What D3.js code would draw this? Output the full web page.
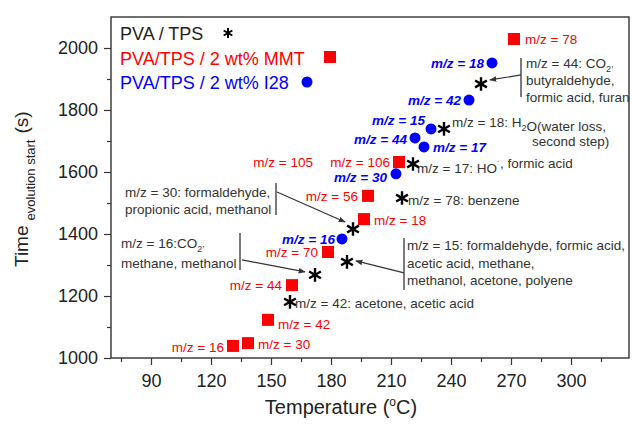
<!DOCTYPE html>
<html>
<head>
<meta charset="utf-8">
<script src="https://cdn.jsdelivr.net/npm/d3@7"></script>
<style>
  body { margin: 0; background: #fff; }
  svg { font-family: "Liberation Sans", Arial, sans-serif; }
</style>
</head>
<body>
<div id="chart"></div>
<script>
// PVA / TPS (stars)
var pvaTemp = [255, 236.5, 221, 215.5, 191, 188, 172, 159.5];
var pvaTime = [1884, 1739, 1626, 1516, 1416, 1310, 1268, 1181];
var pvaMz   = [44, 18, 17, 78, 30, 15, 16, 42];

// PVA/TPS / 2 wt% MMT (squares)
var mmtTemp = [271.5, 214, 214, 198.5, 196.5, 178.5, 160.5, 148.5, 138.5, 131];
var mmtTime = [2029, 1632, 1632, 1523, 1448, 1342, 1235, 1123, 1048, 1039];
var mmtMz   = [78, 106, 105, 56, 18, 70, 44, 42, 30, 16];

// PVA/TPS / 2 wt% I28 (circles)
var i28Temp = [260.5, 249, 230, 222, 226.5, 212.5, 185.5];
var i28Time = [1952, 1832, 1739, 1710, 1681, 1594, 1384];
var i28Mz   = [18, 42, 15, 44, 17, 30, 16];

var xTicks = [90, 120, 150, 180, 210, 240, 270, 300];
var xMinor = [75, 105, 135, 165, 195, 225, 255, 285, 315];
var yTicks = [1000, 1200, 1400, 1600, 1800, 2000];
var yMinor = [1100, 1300, 1500, 1700, 1900];

var legendNames = ["PVA / TPS", "PVA/TPS / 2 wt% MMT", "PVA/TPS / 2 wt% I28"];

// label placement (offsets from the point, in px)
var mmtLabelPos = [[11,0,"start"],[-9,0,"end"],[-86,0,"end"],[-10,0,"end"],[10,1,"start"],
                   [-10,0,"end"],[-10,0,"end"],[10,4,"start"],[10,1,"start"],[-9,1,"end"]];
var i28LabelPos = [[-8,0],[-8,0],[-6,-9],[-8,1],[9,0,"start"],[-9,3],[-7,0]];

// annotation text for the PVA/TPS stars; segments: [text, "sub"|"sup"|""]
var pvaNotes = [
  {i: 0, lines: [[["m/z = 44: CO"], ["2", "sub"], [",", "sup"]], [["butyraldehyde,"]], [["formic acid, furan"]]],
   tx: 45, ty: [-21, -4, 13], br: [40, -26, 13], arrow: [40, -9, 9, -4]},
  {i: 1, lines: [[["m/z = 18: H"], ["2", "sub"], ["O(water loss,"]], [["second step)"]]],
   tx: [8, 88], ty: [-7, 12]},
  {i: 2, lines: [[["m/z = 17: HO"], ["\u02D9", "sup"], [", formic acid"]]], tx: 4, ty: [4]},
  {i: 3, lines: [[["m/z = 78: benzene"]]], tx: 6, ty: [2]},
  {i: 4, lines: [[["m/z = 30: formaldehyde,"]], [["propionic acid, methanol"]]],
   tx: -228, ty: [-37, -20], br: [-77, -46, -14], arrow: [-76, -37, -8, -7]},
  {i: 5, lines: [[["m/z = 15: formaldehyde, formic acid,"]], [["acetic acid, methane,"]], [["methanol, acetone, polyene"]]],
   tx: 60, ty: [-17, 1, 18], br: [57, -24, 28], arrow: [57, 11, 9, -1]},
  {i: 6, lines: [[["m/z = 16:CO"], ["2", "sub"], [",", "sup"]], [["methane, methanol"]]],
   tx: -194, ty: [-32, -12], br: [-75, -42, -5], arrow: [-73, -15, -10, -3]},
  {i: 7, lines: [[["m/z = 42: acetone, acetic acid"]]], tx: 5, ty: [1]}
];

var w = 632, h = 425;
var red = "#ff0000", blue = "#0000ff", ink = "#333";

var svg = d3.select("#chart").append("svg")
  .attr("width", w)
  .attr("height", h);

var xScale = d3.scaleLinear().domain([70, 329]).range([111, 629]);
var yScale = d3.scaleLinear().domain([1000, 2100]).range([358, 17]);

svg.append("defs").append("marker")
  .attr("id", "arrow")
  .attr("viewBox", "0 0 10 10")
  .attr("refX", 9).attr("refY", 5)
  .attr("markerWidth", 7).attr("markerHeight", 7)
  .attr("markerUnits", "userSpaceOnUse")
  .attr("orient", "auto")
  .append("path")
  .attr("d", "M0,1 L10,5 L0,9 Z")
  .attr("fill", ink);

// axes
function styleAxis(g) {
  g.select(".domain").remove();
  g.selectAll("line").attr("stroke", ink).attr("stroke-width", 1.2);
  g.selectAll("text").attr("fill", "#222").style("font-size", "18px");
}

svg.append("g")
  .attr("transform", "translate(0," + yScale(1000) + ")")
  .call(d3.axisBottom(xScale).tickValues(xTicks).tickSize(7).tickPadding(9).tickFormat(d3.format("d")))
  .call(styleAxis);
svg.append("g")
  .attr("transform", "translate(0," + yScale(1000) + ")")
  .call(d3.axisBottom(xScale).tickValues(xMinor).tickSize(4).tickFormat(""))
  .call(styleAxis);
svg.append("g")
  .attr("transform", "translate(" + xScale(70) + ",0)")
  .call(d3.axisLeft(yScale).tickValues(yTicks).tickSize(7).tickPadding(6).tickFormat(d3.format("d")))
  .call(styleAxis);
svg.append("g")
  .attr("transform", "translate(" + xScale(70) + ",0)")
  .call(d3.axisLeft(yScale).tickValues(yMinor).tickSize(4).tickFormat(""))
  .call(styleAxis);

svg.append("rect")
  .attr("x", xScale(70))
  .attr("y", yScale(2100))
  .attr("width", xScale(329) - xScale(70))
  .attr("height", yScale(1000) - yScale(2100))
  .attr("fill", "none")
  .attr("stroke", ink)
  .attr("stroke-width", 1.4);

// axis titles
var xTitle = svg.append("text")
  .attr("x", 341).attr("y", 414)
  .attr("text-anchor", "middle")
  .attr("fill", "#222")
  .style("font-size", "20px");
xTitle.append("tspan").text("Temperature (");
xTitle.append("tspan").attr("dy", -8).style("font-size", "12px").text("o");
xTitle.append("tspan").attr("dy", 8).text("C)");

var yTitle = svg.append("text")
  .attr("transform", "translate(28,267) rotate(-90)")
  .attr("fill", "#222")
  .style("font-size", "19px");
yTitle.append("tspan").text("Time");
yTitle.append("tspan").attr("dx", 5).attr("dy", 7).style("font-size", "13px").text("evolution start");
yTitle.append("tspan").attr("dx", 6).attr("dy", -7).text("(s)");

// data
var pva = pvaTemp.map(function(d, i) { return {t: d, s: pvaTime[i], mz: pvaMz[i]}; });
var mmt = mmtTemp.map(function(d, i) { return {t: d, s: mmtTime[i], mz: mmtMz[i]}; });
var i28 = i28Temp.map(function(d, i) { return {t: d, s: i28Time[i], mz: i28Mz[i]}; });

var star = d3.symbol().type(d3.symbolAsterisk).size(130);

// annotations (brackets, arrows, text)
function addSegments(sel, segs) {
  segs.forEach(function(s) {
    var sp = sel.append("tspan").text(s[0]);
    if (s[1] == "sub") sp.attr("dy", 4).style("font-size", "9px");
    else if (s[1] == "sup") sp.attr("dy", -5).style("font-size", "9px");
    else sp.attr("dy", 0);
  });
}

pvaNotes.forEach(function(n) {
  var d = pva[n.i];
  var px = xScale(d.t), py = yScale(d.s);
  var g = svg.append("g").attr("class", "note");
  if (n.br) {
    g.append("line")
      .attr("x1", px + n.br[0]).attr("x2", px + n.br[0])
      .attr("y1", py + n.br[1]).attr("y2", py + n.br[2])
      .attr("stroke", ink).attr("stroke-width", 1.3);
  }
  if (n.arrow) {
    g.append("line")
      .attr("x1", px + n.arrow[0]).attr("y1", py + n.arrow[1])
      .attr("x2", px + n.arrow[2]).attr("y2", py + n.arrow[3])
      .attr("stroke", ink).attr("stroke-width", 1.2)
      .attr("marker-end", "url(#arrow)");
  }
  n.lines.forEach(function(line, k) {
    var tx = Array.isArray(n.tx) ? n.tx[k] : n.tx;
    var t = g.append("text")
      .attr("x", px + tx)
      .attr("y", py + n.ty[k] + 5)
      .attr("fill", ink)
      .style("font-size", "13.5px");
    addSegments(t, line);
  });
});

// markers
svg.append("g").selectAll("rect")
  .data(mmt)
  .enter()
  .append("rect")
  .attr("x", function(d) { return xScale(d.t) - 6; })
  .attr("y", function(d) { return yScale(d.s) - 6; })
  .attr("width", 12).attr("height", 12)
  .attr("fill", red);

svg.append("g").selectAll("circle")
  .data(i28)
  .enter()
  .append("circle")
  .attr("cx", function(d) { return xScale(d.t); })
  .attr("cy", function(d) { return yScale(d.s); })
  .attr("r", 5.5)
  .attr("fill", blue);

svg.append("g").selectAll("path")
  .data(pva)
  .enter()
  .append("path")
  .attr("d", star)
  .attr("transform", function(d) { return "translate(" + xScale(d.t) + "," + yScale(d.s) + ")"; })
  .attr("fill", "none")
  .attr("stroke", "#000")
  .attr("stroke-width", 2.4);

// point labels
svg.append("g").selectAll("text")
  .data(mmt)
  .enter()
  .append("text")
  .attr("x", function(d, i) { return xScale(d.t) + mmtLabelPos[i][0]; })
  .attr("y", function(d, i) { return yScale(d.s) + mmtLabelPos[i][1] + 5; })
  .attr("text-anchor", function(d, i) { return mmtLabelPos[i][2]; })
  .attr("fill", red)
  .style("font-size", "13.5px")
  .text(function(d) { return "m/z = " + d.mz; });

svg.append("g").selectAll("text")
  .data(i28)
  .enter()
  .append("text")
  .attr("x", function(d, i) { return xScale(d.t) + i28LabelPos[i][0]; })
  .attr("y", function(d, i) { return yScale(d.s) + i28LabelPos[i][1] + 5; })
  .attr("text-anchor", function(d, i) { return i28LabelPos[i][2] || "end"; })
  .attr("fill", blue)
  .style("font-size", "13.5px")
  .style("font-weight", "bold")
  .style("font-style", "italic")
  .text(function(d) { return "m/z = " + d.mz; });

// legend
var legend = svg.append("g").attr("class", "legend");
var legendColors = ["#222", red, blue];
legend.selectAll("text")
  .data(legendNames)
  .enter()
  .append("text")
  .attr("x", 120)
  .attr("y", function(d, i) { return 40 + i * 24.5; })
  .attr("fill", function(d, i) { return legendColors[i]; })
  .style("font-size", "18px")
  .text(function(d) { return d; });

legend.append("path")
  .attr("d", d3.symbol().type(d3.symbolAsterisk).size(70))
  .attr("transform", "translate(228,33)")
  .attr("fill", "none").attr("stroke", "#000").attr("stroke-width", 2);
legend.append("rect")
  .attr("x", 324).attr("y", 51).attr("width", 12).attr("height", 12)
  .attr("fill", red);
legend.append("circle")
  .attr("cx", 307).attr("cy", 82).attr("r", 5.5)
  .attr("fill", blue);
</script>
</body>
</html>
